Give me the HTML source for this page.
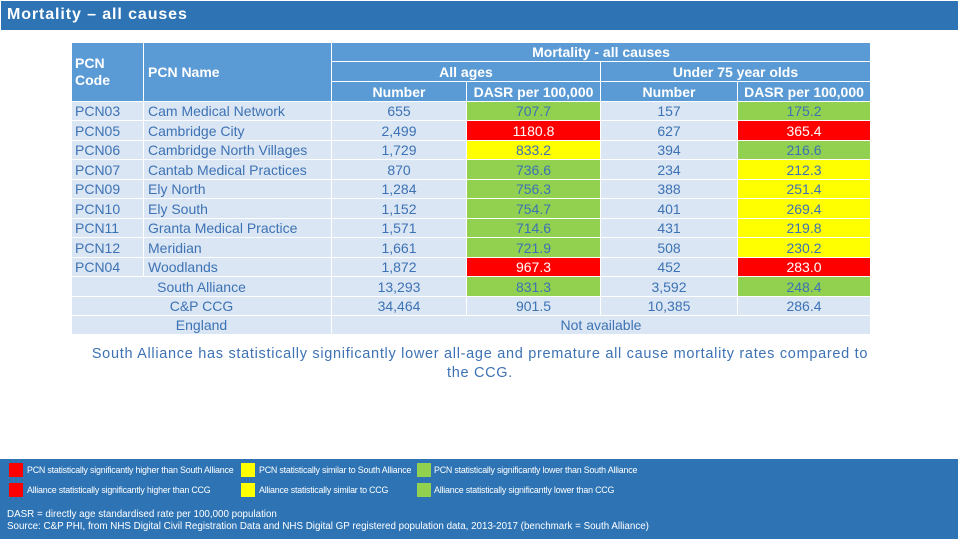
<!DOCTYPE html>
<html><head><meta charset="utf-8"><style>
body{margin:0;width:960px;height:540px;position:relative;background:#fff;font-family:"Liberation Sans",Arial,sans-serif;overflow:hidden}
.bar{position:absolute;background:#2e74b5;color:#fff}
.c{position:absolute;box-sizing:border-box;display:flex;align-items:center;font-size:14px;color:#3d72b4;white-space:nowrap}
.h{background:#5b9bd5;color:#fff;font-weight:bold}
.b{background:#dae6f4}
.ctr{justify-content:center}
.lg{position:absolute;font-size:8.9px;color:#fff;letter-spacing:-0.2px}
.sw{position:absolute;width:14px;height:14px}
</style></head><body>
<div class="bar" style="left:1px;top:1px;width:957px;height:29px"><div style="position:absolute;left:6px;top:5px;font-size:16px;font-weight:bold;letter-spacing:0.9px">Mortality – all causes</div></div>
<div id="tbl"></div>
<div style="position:absolute;left:40px;top:345px;width:880px;text-align:center;font-size:14.5px;letter-spacing:0.7px;color:#3d72b4;line-height:19px">South Alliance has statistically significantly lower all-age and premature all cause mortality rates compared to<br>the CCG.</div>
<div class="bar" style="left:0;top:459px;width:958px;height:80px">
<div class="sw" style="left:9px;top:4px;background:#f00"></div><div class="lg" style="left:27px;top:6px">PCN statistically significantly higher than South Alliance</div>
<div class="sw" style="left:9px;top:24px;background:#f00"></div><div class="lg" style="left:27px;top:26px">Alliance statistically significantly higher than CCG</div>
<div class="sw" style="left:241px;top:4px;background:#ff0"></div><div class="lg" style="left:259px;top:6px">PCN statistically similar to South Alliance</div>
<div class="sw" style="left:241px;top:24px;background:#ff0"></div><div class="lg" style="left:259px;top:26px">Alliance statistically similar to CCG</div>
<div class="sw" style="left:417px;top:4px;background:#92d050"></div><div class="lg" style="left:434px;top:6px">PCN statistically significantly lower than South Alliance</div>
<div class="sw" style="left:417px;top:24px;background:#92d050"></div><div class="lg" style="left:434px;top:26px">Alliance statistically significantly lower than CCG</div>
<div style="position:absolute;left:7px;top:50px;font-size:9.8px">DASR = directly age standardised rate per 100,000 population</div>
<div style="position:absolute;left:7px;top:62px;font-size:9.8px">Source: C&amp;P PHI, from NHS Digital Civil Registration Data and NHS Digital GP registered population data, 2013-2017 (benchmark = South Alliance)</div>
</div>
<script>
const codes=["PCN03","PCN05","PCN06","PCN07","PCN09","PCN10","PCN11","PCN12","PCN04","South Alliance","C&P CCG","England"];
const names=["Cam Medical Network","Cambridge City","Cambridge North Villages","Cantab Medical Practices","Ely North","Ely South","Granta Medical Practice","Meridian","Woodlands","","",""];
const allNum=["655","2,499","1,729","870","1,284","1,152","1,571","1,661","1,872","13,293","34,464",""];
const allRate=["707.7","1180.8","833.2","736.6","756.3","754.7","714.6","721.9","967.3","831.3","901.5",""];
const allCol=["g","r","y","g","g","g","g","g","r","g","",""];
const u75Num=["157","627","394","234","388","401","431","508","452","3,592","10,385",""];
const u75Rate=["175.2","365.4","216.6","212.3","251.4","269.4","219.8","230.2","283.0","248.4","286.4",""];
const u75Col=["g","r","g","y","y","y","y","y","r","g","",""];
const COL={g:"#92d050",r:"#ff0000",y:"#ffff00"};
const xs=[71,143,331,466,600,737,870];
const tbl=document.getElementById('tbl');
function cell(x,y,w,h,txt,cls,bg){
 const d=document.createElement('div');
 d.className='c '+cls;
 d.style.cssText=`left:${x+1}px;top:${y+1}px;width:${w-1}px;height:${h-1}px;`+(bg?`background:${bg};`:'');
 if(bg==="#ff0000")d.style.color="#fff";
 d.textContent=txt;
 
 
 tbl.appendChild(d);return d;
}
let c1=cell(71,42,72,59,"PCN\nCode","h");c1.style.whiteSpace="pre";c1.style.paddingLeft="3px";c1.style.lineHeight="17px";
let c2=cell(143,42,188,59,"PCN Name","h");c2.style.paddingLeft="4px";
cell(331,42,539,19,"Mortality - all causes","h ctr");
cell(331,61,269,20,"All ages","h ctr");
cell(600,61,270,20,"Under 75 year olds","h ctr");
["Number","DASR per 100,000","Number","DASR per 100,000"].forEach((t,i)=>cell(xs[i+2],81,xs[i+3]-xs[i+2],20,t,"h ctr"));
const rh=19.45;
codes.forEach((code,i)=>{
 const y=Math.round(101+i*rh),h=Math.round(101+(i+1)*rh)-y;
 if(i<9){
  let a=cell(71,y,72,h,code,"b");a.style.paddingLeft="3px";
  let b=cell(143,y,188,h,names[i],"b");b.style.paddingLeft="4px";
 } else cell(71,y,260,h,code,"b ctr");
 if(code==="England"){cell(331,y,539,h,"Not available","b ctr");return;}
 cell(331,y,135,h,allNum[i],"b ctr");
 cell(466,y,134,h,allRate[i],"b ctr",COL[allCol[i]]);
 cell(600,y,137,h,u75Num[i],"b ctr");
 cell(737,y,133,h,u75Rate[i],"b ctr",COL[u75Col[i]]);
});
</script>
</body></html>
